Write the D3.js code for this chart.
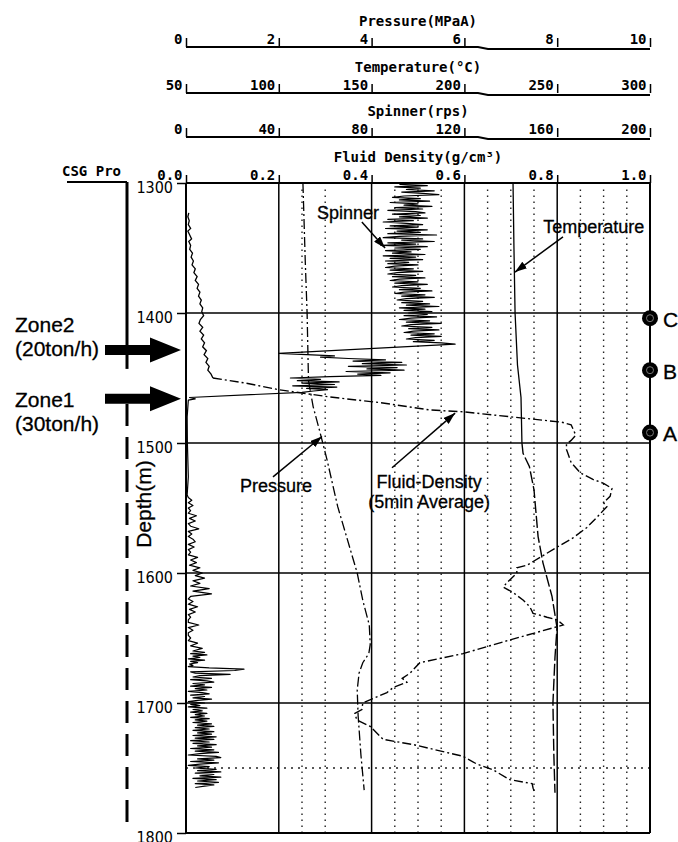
<!DOCTYPE html>
<html>
<head>
<meta charset="utf-8">
<script src="https://cdn.jsdelivr.net/npm/d3@7"></script>
<style>
  body { margin: 0; background: #fff; }
  svg { display: block; }
  .mono { font-family: "DejaVu Sans Mono", monospace; font-weight: bold; font-size: 14px; }
  .note { font-family: "Liberation Sans", Arial, sans-serif; font-size: 18px; stroke: #000; stroke-width: 0.3px; }
  .big { font-family: "Liberation Sans", Arial, sans-serif; font-size: 21px; stroke: #000; stroke-width: 0.3px; }
</style>
</head>
<body>
<div id="chart"></div>
<script>
// tick values of the four top scales and the depth scale
let pressureTicks = [0, 2, 4, 6, 8, 10];
let temperatureTicks = [50, 100, 150, 200, 250, 300];
let spinnerTicks = [0, 40, 80, 120, 160, 200];
let densityTicks = [0, 0.2, 0.4, 0.6, 0.8, 1.0];
let depthTicks = [1300, 1400, 1500, 1600, 1700, 1800];
let minorDensity = [0.25, 0.3, 0.45, 0.5, 0.55, 0.65, 0.7, 0.75, 0.85, 0.9, 0.95];
let dottedDepth = [1750];

// logs: [depth (m), value]
let densityLog = [
  [1323, 0.006], [1326, 0.004], [1329, 0.007], [1332, 0.005], [1335, 0.01], [1337, 0.004], [1340, 0.008],
  [1343, 0.012], [1345, 0.006], [1348, 0.01], [1351, 0.008], [1354, 0.014], [1357, 0.011], [1360, 0.016],
  [1363, 0.013], [1366, 0.02], [1369, 0.017], [1372, 0.024], [1375, 0.02], [1378, 0.027], [1381, 0.024],
  [1384, 0.03], [1387, 0.027], [1390, 0.033], [1393, 0.03], [1396, 0.036], [1399, 0.034], [1402, 0.038],
  [1405, 0.031], [1408, 0.028], [1411, 0.036], [1414, 0.03], [1417, 0.038], [1420, 0.033], [1423, 0.04],
  [1426, 0.036], [1429, 0.044], [1432, 0.039], [1435, 0.047], [1438, 0.043], [1441, 0.05], [1444, 0.047],
  [1447, 0.054], [1450, 0.058],
  [1454, 0.13], [1459, 0.2], [1464.6, 0.31], [1469, 0.42], [1474.6, 0.526], [1476, 0.597], [1484, 0.81],
  [1486, 0.83], [1490, 0.835], [1494, 0.84], [1498, 0.83], [1501, 0.82], [1505, 0.82], [1515, 0.83],
  [1523, 0.85], [1528, 0.877], [1531, 0.9], [1535, 0.918], [1541, 0.914], [1546, 0.9], [1549, 0.907],
  [1557, 0.886], [1565, 0.864], [1573, 0.834], [1580, 0.8], [1588, 0.763], [1594, 0.735], [1596, 0.713],
  [1600, 0.713], [1608, 0.69], [1611, 0.684], [1615, 0.705], [1621, 0.727], [1626, 0.741], [1631, 0.748],
  [1634, 0.778], [1636, 0.8], [1640, 0.813], [1651.5, 0.698], [1662, 0.597], [1669, 0.504], [1677, 0.483],
  [1681, 0.466], [1684, 0.476], [1688, 0.447], [1692, 0.433], [1700, 0.381], [1705, 0.379], [1708, 0.364],
  [1713, 0.368], [1718, 0.397], [1728, 0.425], [1732, 0.49], [1741, 0.597], [1747, 0.627], [1751.5, 0.662],
  [1759, 0.698], [1762, 0.746], [1765.5, 0.748], [1769, 0.752]
];

let pressureLog = [
  [1300, 2.52], [1360, 2.57], [1400, 2.61], [1452, 2.64], [1472, 2.74], [1492, 2.89], [1513, 3.04],
  [1549, 3.27], [1600, 3.69], [1621, 3.81], [1640, 3.95], [1655, 3.97], [1662, 3.94], [1669, 3.81],
  [1677, 3.73], [1690, 3.69], [1710, 3.71], [1740, 3.77], [1767, 3.84]
];

let temperatureLog = [
  [1300, 226.2], [1350, 226.7], [1400, 227.3], [1440, 228.6], [1465, 230.5], [1500, 231], [1508, 231.6],
  [1518, 235], [1536, 237.5], [1572, 239.7], [1592, 242.3], [1618, 247.2], [1642, 249.9], [1665, 248.8],
  [1700, 247.7], [1740, 248.2], [1769, 248.8]
];

// spinner, 1 m samples from 1301 to 1423
let spinnerUpper = [
  92, 104, 90, 101, 95, 107, 93, 102, 109, 94, 89, 101, 92, 105, 88, 100, 94, 106, 90, 102,
  87, 99, 103, 89, 101, 92, 104, 87, 98, 85, 95, 102, 88, 100, 86, 104, 91, 101, 87, 108,
  92, 85, 102, 93, 107, 87, 99, 84, 104, 90, 101, 86, 97, 89, 103, 85, 99, 88, 102, 86,
  96, 87, 100, 90, 86, 98, 88, 102, 91, 87, 99, 89, 103, 92, 88, 100, 90, 104, 93, 89,
  101, 92, 106, 94, 90, 103, 93, 107, 95, 91, 102, 93, 105, 95, 109, 92, 103, 94, 106, 96,
  104, 94, 108, 97, 92, 105, 95, 110, 97, 93, 106, 96, 109, 98, 94, 107, 97, 110, 99, 95,
  107, 98, 110
];
// spinner through the feed zones
let spinnerZones = [
  [1424, 116], [1431, 40], [1432, 52], [1433, 64], [1434, 58], [1435, 70], [1436, 86], [1437, 72],
  [1438, 93], [1439, 76], [1440, 95], [1441, 70], [1442, 91], [1443, 78], [1444, 94], [1445, 69],
  [1446, 88], [1447, 74], [1448, 84], [1449, 62], [1450, 45], [1451, 58], [1452, 48], [1453, 66],
  [1454, 50], [1455, 64], [1456, 46], [1457, 65], [1458, 52], [1459, 61], [1460, 55], [1461, 50],
  [1465, 1.5], [1466, 4], [1467, 1], [1480, 0.5], [1500, 0.6], [1526, 1], [1540, 0.5]
];
// spinner, 2 m samples from 1542 to 1660
let spinnerLowerA = [
  1, 2.5, 1, 3, 1, 2, 1, 4.5, 1.5, 4, 1, 2, 5.5, 1, 2.5, 1, 3, 4, 1, 3.5,
  1, 2, 1, 5, 2, 4.5, 1.5, 6, 3, 7, 4, 8, 3, 6, 2, 10, 3, 11, 2, 1,
  3, 1, 5, 1.5, 4, 1, 2, 1, 1, 5.5, 1, 3, 1, 1, 2, 1, 5, 2, 7, 3
];
// spinner, 1 m samples from 1661 to 1765
let spinnerLowerB = [
  8, 2, 9, 3, 6, 1, 8, 2, 5, 1.5, 3, 1, 10, 25, 21, 2, 4, 19, 6, 3,
  11, 2, 9, 12, 3, 8, 2, 11, 4, 9, 1, 7, 10, 2, 8, 3, 11, 5, 1, 8,
  2, 6, 1, 9, 3, 7, 2, 9, 4, 8, 2, 10, 4, 9, 3, 11, 5, 12, 4, 10,
  3, 12, 5, 11, 3, 13, 4, 12, 2, 10, 3, 13, 5, 11, 2, 12, 4, 14, 6, 1,
  13, 15, 5, 12, 2, 14, 6, 1, 10, 4, 13, 5, 15, 4, 12, 6, 15, 3, 13, 5,
  14, 4, 12, 8, 4
];

let zones = [
  {name: "Zone2", rate: "(20ton/h)", depth: 1428.5, textDepth: 1414.6},
  {name: "Zone1", rate: "(30ton/h)", depth: 1466, textDepth: 1472.3}
];
let stations = [
  {label: "C", depth: 1404},
  {label: "B", depth: 1444},
  {label: "A", depth: 1492}
];
let casingSolid = [1300, 1443];
let casingSlotted = [1470, 1800];

function makeChart() {

  let svgWidth = 678;
  let svgHeight = 842;

  let margin = {top: 183, right: 28, bottom: 9, left: 186};
  let width = svgWidth - margin.left - margin.right;
  let height = svgHeight - margin.top - margin.bottom;

  let svg = d3.select("#chart")
    .append("svg")
    .attr("width", svgWidth)
    .attr("height", svgHeight);

  svg.append("defs").append("marker")
    .attr("id", "head")
    .attr("viewBox", "0 0 12 8")
    .attr("refX", 12)
    .attr("refY", 4)
    .attr("markerWidth", 12)
    .attr("markerHeight", 8)
    .attr("markerUnits", "userSpaceOnUse")
    .attr("orient", "auto")
    .append("path")
    .attr("d", "M0,0L12,4L0,8Z")
    .attr("fill", "#000");

  let chartGroup = svg.append("g")
    .attr("transform", `translate(${margin.left}, ${margin.top})`);

  // scales, all sharing one track
  let x = d3.scaleLinear().domain([0, 1]).range([0, width]);
  let xP = d3.scaleLinear().domain([0, 10]).range([0, width]);
  let xT = d3.scaleLinear().domain([50, 300]).range([0, width]);
  let xS = d3.scaleLinear().domain([0, 200]).range([0, width]);
  let y = d3.scaleLinear().domain([1300, 1800]).range([0, height]);

  // top scales
  let topAxes = [
    {title: "Pressure(MPaA)", scale: xP, ticks: pressureTicks, dy: -136},
    {title: "Temperature(°C)", scale: xT, ticks: temperatureTicks, dy: -90},
    {title: "Spinner(rps)", scale: xS, ticks: spinnerTicks, dy: -46}
  ];
  let stepX = 292;

  topAxes.forEach(function(a) {
    let g = chartGroup.append("g")
      .attr("transform", `translate(0, ${a.dy})`)
      .call(d3.axisTop(a.scale).tickValues(a.ticks).tickSize(9).tickPadding(-6).tickFormat(d3.format("d")));
    g.select(".domain").remove();
    g.selectAll(".tick line").attr("stroke-width", 1.5);
    g.selectAll(".tick text")
      .attr("class", "mono")
      .attr("text-anchor", "end")
      .attr("x", -4)
      .attr("fill", "#000");
    g.append("path")
      .attr("d", d3.line()([[0, 0], [stepX, 0], [stepX + 10, 2], [width, 2]]))
      .attr("fill", "none")
      .attr("stroke", "#000")
      .attr("stroke-width", 2);
    chartGroup.append("text")
      .attr("class", "mono")
      .attr("x", width / 2)
      .attr("y", a.dy - 21)
      .attr("text-anchor", "middle")
      .text(a.title);
  });

  let densAxis = chartGroup.append("g")
    .call(d3.axisTop(x).tickValues(densityTicks).tickSize(8).tickPadding(-5).tickFormat(d3.format(".1f")));
  densAxis.select(".domain").remove();
  densAxis.selectAll(".tick line").attr("stroke-width", 1.5);
  densAxis.selectAll(".tick text")
    .attr("class", "mono")
    .attr("text-anchor", "end")
    .attr("x", -4)
    .attr("fill", "#000");
  chartGroup.append("text")
    .attr("class", "mono")
    .attr("x", width / 2)
    .attr("y", -21)
    .attr("text-anchor", "middle")
    .text("Fluid Density(g/cm³)");

  // depth axis
  let leftAxis = chartGroup.append("g")
    .call(d3.axisLeft(y).tickValues(depthTicks).tickSize(9).tickPadding(4).tickFormat(d3.format("d")));
  leftAxis.select(".domain").remove();
  leftAxis.selectAll(".tick line").attr("stroke-width", 1.5);
  leftAxis.selectAll(".tick text")
    .attr("y", 4)
    .attr("fill", "#000")
    .style("font-family", "'Liberation Sans Narrow', 'DejaVu Sans Condensed', sans-serif")
    .style("font-size", "16px");

  chartGroup.append("text")
    .attr("class", "big")
    .attr("transform", `translate(-43, ${y(1547)}) rotate(-90)`)
    .attr("text-anchor", "middle")
    .attr("dominant-baseline", "central")
    .text("Depth(m)");

  // dotted minor grid
  chartGroup.selectAll(".minor")
    .data(minorDensity)
    .enter()
    .append("line")
    .attr("x1", d => x(d))
    .attr("x2", d => x(d))
    .attr("y1", y(1305))
    .attr("y2", height)
    .attr("stroke", "#222")
    .attr("stroke-width", 1.4)
    .attr("stroke-dasharray", "1.4,4.6");

  chartGroup.selectAll(".hdot")
    .data(dottedDepth)
    .enter()
    .append("line")
    .attr("x1", 0)
    .attr("x2", width)
    .attr("y1", d => y(d))
    .attr("y2", d => y(d))
    .attr("stroke", "#222")
    .attr("stroke-width", 1.4)
    .attr("stroke-dasharray", "2,5");

  // solid grid and frame
  chartGroup.selectAll(".vgrid")
    .data(densityTicks)
    .enter()
    .append("line")
    .attr("x1", d => x(d))
    .attr("x2", d => x(d))
    .attr("y1", 0)
    .attr("y2", height)
    .attr("stroke", "#000")
    .attr("stroke-width", d => (d === 0 || d === 1) ? 2 : 1.5);

  chartGroup.selectAll(".hgrid")
    .data(depthTicks)
    .enter()
    .append("line")
    .attr("x1", 0)
    .attr("x2", width)
    .attr("y1", d => y(d))
    .attr("y2", d => y(d))
    .attr("stroke", "#000")
    .attr("stroke-width", d => (d === 1300 || d === 1800) ? 2 : 1.5);

  // curves
  let lineOf = xs => d3.line().x(d => xs(d[1])).y(d => y(d[0]));

  chartGroup.append("path")
    .datum(temperatureLog.filter(d => d[0] <= 1500))
    .attr("d", lineOf(xT))
    .attr("fill", "none")
    .attr("stroke", "#000")
    .attr("stroke-width", 1.3);

  chartGroup.append("path")
    .datum(temperatureLog.filter(d => d[0] >= 1500))
    .attr("d", lineOf(xT))
    .attr("fill", "none")
    .attr("stroke", "#000")
    .attr("stroke-width", 1.4)
    .attr("stroke-dasharray", "12,3");

  chartGroup.append("path")
    .datum(pressureLog)
    .attr("d", lineOf(xP))
    .attr("fill", "none")
    .attr("stroke", "#000")
    .attr("stroke-width", 1.3)
    .attr("stroke-dasharray", "10,3,2,3");

  chartGroup.append("path")
    .datum(densityLog.filter(d => d[0] <= 1450))
    .attr("d", lineOf(x))
    .attr("fill", "none")
    .attr("stroke", "#000")
    .attr("stroke-width", 1.3);

  chartGroup.append("path")
    .datum(densityLog.filter(d => d[0] >= 1450))
    .attr("d", lineOf(x))
    .attr("fill", "none")
    .attr("stroke", "#000")
    .attr("stroke-width", 1.4)
    .attr("stroke-dasharray", "9,3,2,3");

  let run = (start, step, vals) => vals.map((v, i) => [start + i * step, v]);
  let spinnerLog = run(1301, 1, spinnerUpper)
    .concat(spinnerZones)
    .concat(run(1542, 2, spinnerLowerA))
    .concat(run(1661, 1, spinnerLowerB));

  chartGroup.append("path")
    .datum(spinnerLog)
    .attr("d", lineOf(xS))
    .attr("fill", "none")
    .attr("stroke", "#000")
    .attr("stroke-width", 1.2)
    .attr("stroke-linejoin", "round");

  // curve labels with arrows, positions in density / depth units
  let notes = [
    {lines: ["Spinner"], at: [0.349, 1323], from: [0.379, 1330], to: [0.429, 1350]},
    {lines: ["Temperature"], at: [0.879, 1334], from: [0.8125, 1341.5], to: [0.709, 1368.5]},
    {lines: ["Pressure"], at: [0.194, 1533], from: [0.1875, 1526], to: [0.293, 1495]},
    {lines: ["Fluid-Density", "(5min Average)"], at: [0.524, 1530], from: [0.444, 1519], to: [0.58, 1477]}
  ];

  notes.forEach(function(n) {
    chartGroup.append("line")
      .attr("x1", x(n.from[0]))
      .attr("y1", y(n.from[1]))
      .attr("x2", x(n.to[0]))
      .attr("y2", y(n.to[1]))
      .attr("stroke", "#000")
      .attr("stroke-width", 1.5)
      .attr("marker-end", "url(#head)");
    n.lines.forEach(function(t, i) {
      chartGroup.append("text")
        .attr("class", "note")
        .attr("x", x(n.at[0]))
        .attr("y", y(n.at[1]) + i * 20)
        .attr("text-anchor", "middle")
        .attr("dominant-baseline", "central")
        .text(t);
    });
  });

  // stations on the right edge
  chartGroup.selectAll(".station")
    .data(stations)
    .enter()
    .append("circle")
    .attr("cx", x(1))
    .attr("cy", d => y(d.depth))
    .attr("r", 8)
    .attr("fill", "#000");

  chartGroup.selectAll(".stationInner")
    .data(stations)
    .enter()
    .append("circle")
    .attr("cx", x(1))
    .attr("cy", d => y(d.depth))
    .attr("r", 3.5)
    .attr("fill", "none")
    .attr("stroke", "#777")
    .attr("stroke-width", 1);

  chartGroup.selectAll(".stationText")
    .data(stations)
    .enter()
    .append("text")
    .attr("class", "big")
    .attr("x", x(1) + 13)
    .attr("y", d => y(d.depth) + 1)
    .attr("dominant-baseline", "central")
    .text(d => d.label);

  // casing program
  chartGroup.append("text")
    .attr("class", "mono")
    .attr("x", -124)
    .attr("y", -7)
    .text("CSG Pro");

  chartGroup.append("path")
    .attr("d", d3.line()([[-119, -1], [-59, -1]]))
    .attr("stroke", "#000")
    .attr("stroke-width", 2);

  chartGroup.append("line")
    .attr("x1", -59).attr("x2", -59)
    .attr("y1", y(casingSolid[0]) - 1)
    .attr("y2", y(casingSolid[1]))
    .attr("stroke", "#000")
    .attr("stroke-width", 3);

  chartGroup.append("line")
    .attr("x1", -59).attr("x2", -59)
    .attr("y1", y(casingSlotted[0]))
    .attr("y2", y(casingSlotted[1]))
    .attr("stroke", "#000")
    .attr("stroke-width", 3)
    .attr("stroke-dasharray", "22,11");

  // feed zone arrows
  zones.forEach(function(z) {
    let ty = y(z.depth);
    let tip = -5;
    chartGroup.append("path")
      .attr("d", d3.line()([
        [-81, ty - 5], [-36, ty - 5], [-36, ty - 12.5], [tip, ty],
        [-36, ty + 12.5], [-36, ty + 5], [-81, ty + 5]
      ]) + "Z")
      .attr("fill", "#000");
    chartGroup.append("text")
      .attr("class", "big")
      .attr("x", -171)
      .attr("y", y(z.textDepth))
      .text(z.name);
    chartGroup.append("text")
      .attr("class", "big")
      .attr("x", -171)
      .attr("y", y(z.textDepth) + 24)
      .text(z.rate);
  });
}

makeChart();
</script>
</body>
</html>
